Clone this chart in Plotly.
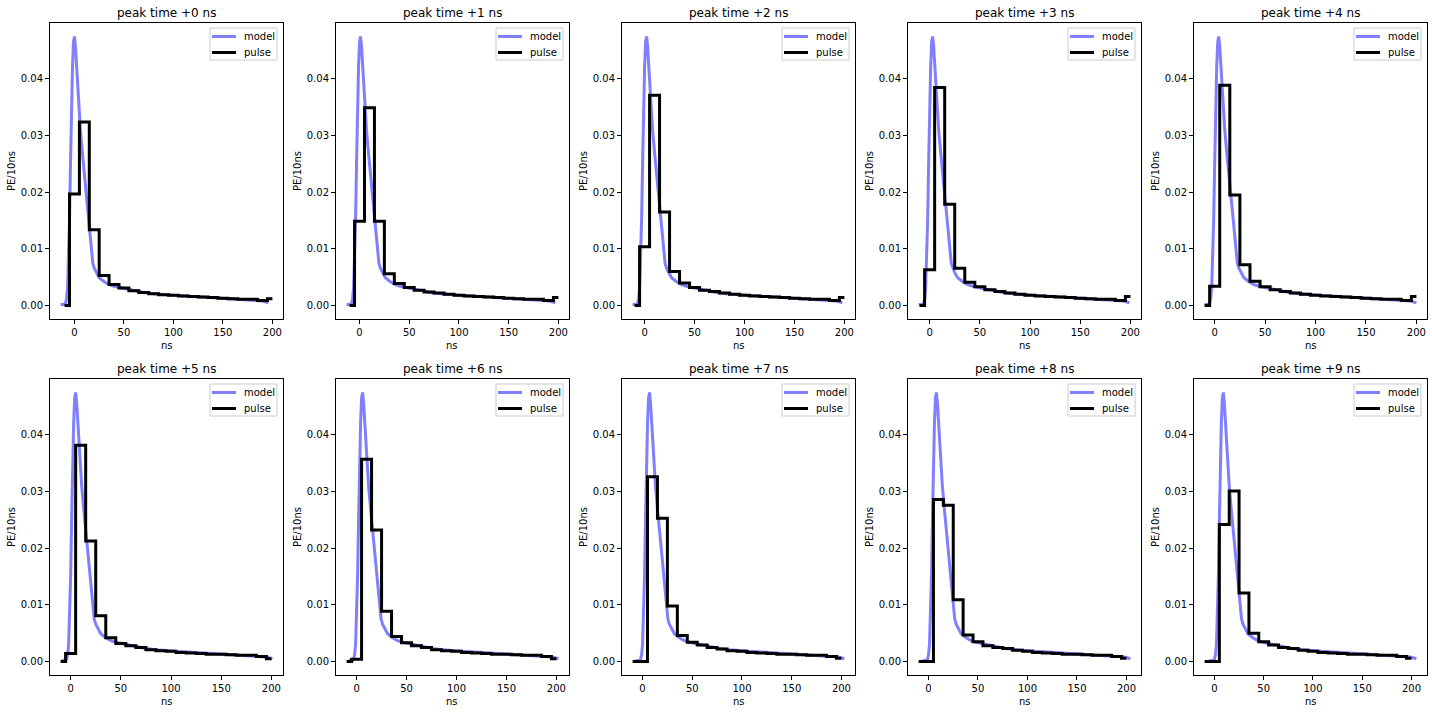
import plotly.graph_objects as go

W, H = 1432, 712

# ---------------- data ----------------
shifts = [0, 1, 2, 3, 4, 5, 6, 7, 8, 9]
titles = ["peak time +%d ns" % s for s in shifts]
series_names = ["model", "pulse"]

# model curve (time relative to peak, PE/10ns)
model_t = [-14, -10, -9, -8, -7, -6, -5, -4, -3, -2, -1, 0, 1, 2, 3, 4, 5, 6, 8,
           10, 12, 14, 16, 18.5, 20, 22, 25, 30, 35, 40, 50, 60, 70, 80, 90,
           100, 120, 140, 160, 180, 190, 196]
model_y = [0.0002, 0.0002, 0.0004, 0.0012, 0.003, 0.008, 0.015, 0.025, 0.035, 0.042,
           0.0465, 0.0475, 0.0458, 0.0425, 0.039, 0.0365, 0.034, 0.031, 0.027,
           0.023, 0.0195, 0.0158, 0.0122, 0.0075, 0.0066, 0.0058, 0.0049, 0.0042,
           0.0037, 0.0034, 0.003, 0.0026, 0.0023, 0.0021, 0.0019,
           0.0018, 0.0016, 0.0014, 0.0012, 0.0010, 0.0008, 0.0005]

pulse_t = [-10, 0, 10, 20, 30, 40, 50, 60, 70, 80, 90, 100, 110, 120, 130, 140,
           150, 160, 170, 180, 190, 200]

pulse_0 = [0, 0.0197, 0.0324, 0.0134, 0.0053, 0.0037, 0.0031, 0.0026, 0.0023, 0.0021, 0.0019,
           0.0018, 0.0017, 0.0016, 0.0015, 0.0014, 0.0013, 0.0012, 0.0011, 0.0011, 0.0009, 0.0012]
pulse_1 = [0, 0.0149, 0.0349, 0.0149, 0.0056, 0.0039, 0.0032, 0.0027, 0.0024, 0.0022, 0.0020,
           0.0018, 0.0017, 0.0016, 0.0015, 0.0014, 0.0013, 0.0012, 0.0011, 0.0011, 0.0009, 0.0014]
pulse_2 = [0, 0.0104, 0.0371, 0.0165, 0.0060, 0.0040, 0.0032, 0.0027, 0.0025, 0.0022, 0.0020,
           0.0018, 0.0017, 0.0016, 0.0015, 0.0014, 0.0013, 0.0012, 0.0011, 0.0011, 0.0009, 0.0014]
pulse_3 = [0, 0.0063, 0.0385, 0.0179, 0.0066, 0.0041, 0.0033, 0.0028, 0.0025, 0.0022, 0.0020,
           0.0018, 0.0017, 0.0016, 0.0015, 0.0014, 0.0013, 0.0012, 0.0011, 0.0011, 0.0009, 0.0016]
pulse_4 = [0, 0.0034, 0.0389, 0.0195, 0.0072, 0.0043, 0.0033, 0.0028, 0.0025, 0.0022, 0.0020,
           0.0018, 0.0017, 0.0016, 0.0015, 0.0014, 0.0013, 0.0012, 0.0011, 0.0011, 0.0009, 0.0016]
pulse_5 = [0, 0.0014, 0.0382, 0.0213, 0.0081, 0.0042, 0.0032, 0.0028, 0.0025, 0.0021, 0.0019,
           0.0018, 0.0016, 0.0015, 0.0014, 0.0013, 0.0013, 0.0012, 0.0011, 0.0011, 0.0009, 0.0005]
pulse_6 = [0, 0.0004, 0.0357, 0.0232, 0.0089, 0.0044, 0.0033, 0.0028, 0.0025, 0.0021, 0.0019,
           0.0018, 0.0016, 0.0015, 0.0014, 0.0013, 0.0013, 0.0012, 0.0011, 0.0011, 0.0009, 0.0005]
pulse_7 = [0, 0.0, 0.0326, 0.0253, 0.0098, 0.0046, 0.0034, 0.0029, 0.0025, 0.0022, 0.0019,
           0.0018, 0.0016, 0.0015, 0.0014, 0.0013, 0.0013, 0.0012, 0.0011, 0.0011, 0.0009, 0.0006]
pulse_8 = [0, 0.0, 0.0286, 0.0276, 0.0109, 0.0047, 0.0035, 0.0028, 0.0025, 0.0023, 0.0020,
           0.0018, 0.0016, 0.0015, 0.0014, 0.0013, 0.0013, 0.0012, 0.0011, 0.0011, 0.0009, 0.0006]
pulse_9 = [0, 0.0, 0.0242, 0.0301, 0.0121, 0.0050, 0.0035, 0.0029, 0.0025, 0.0023, 0.0020,
           0.0018, 0.0016, 0.0015, 0.0014, 0.0013, 0.0013, 0.0012, 0.0011, 0.0011, 0.0009, 0.0006]
pulses = [pulse_0, pulse_1, pulse_2, pulse_3, pulse_4,
          pulse_5, pulse_6, pulse_7, pulse_8, pulse_9]

y_ticks = [0.0, 0.01, 0.02, 0.03, 0.04]
x_ticks = [0, 50, 100, 150, 200]

# ---------------- layout geometry (pixels) ----------------
col_left = [50, 336, 622, 908, 1194]
ax_w = 233
row_top = [23, 379]
ax_h = 296

FONT = "DejaVu Sans, Arial, sans-serif"
MODEL_COLOR = "rgba(0,0,255,0.5)"
series_colors = [MODEL_COLOR, "black"]


def px(xp):
    return xp / W


def py_(yp):
    return 1 - yp / H


fig = go.Figure()
layout = dict(
    width=W, height=H,
    margin=dict(l=0, r=0, t=0, b=0),
    paper_bgcolor="white", plot_bgcolor="white",
    font=dict(family=FONT, size=10, color="black"),
    showlegend=False,
)
annotations = []
shapes = []

for k in range(10):
    r, c = divmod(k, 5)
    left = col_left[c]
    top = row_top[r]
    right = left + ax_w
    xd = [px(left), px(right)]
    yd = [py_(top + ax_h), py_(top)]
    n = k + 1
    xa = "x" if n == 1 else "x%d" % n
    ya = "y" if n == 1 else "y%d" % n

    mx = [t + shifts[k] for t in model_t]
    pv = pulses[k]

    fig.add_trace(go.Scatter(x=mx, y=model_y, mode="lines", name="model",
                             line=dict(color=MODEL_COLOR, width=3),
                             xaxis=xa, yaxis=ya))
    fig.add_trace(go.Scatter(x=pulse_t, y=pv, mode="lines", name="pulse",
                             line=dict(color="black", width=3, shape="hvh"),
                             xaxis=xa, yaxis=ya))

    # matplotlib-like autoscale with 5% margins
    allx = mx + pulse_t
    xmin, xmax = min(allx), max(allx)
    dx = 0.05 * (xmax - xmin)
    ally = model_y + pv
    ymin, ymax = min(ally), max(ally)
    dy = 0.05 * (ymax - ymin)

    axis_common = dict(showline=True, mirror=True, linecolor="black", linewidth=1,
                       ticks="outside", ticklen=4, tickwidth=1, tickcolor="black",
                       showgrid=False, zeroline=False,
                       tickfont=dict(family=FONT, size=10, color="black"))
    layout["xaxis" if n == 1 else "xaxis%d" % n] = dict(
        domain=xd, anchor=ya, range=[xmin - dx, xmax + dx],
        tickvals=x_ticks, ticktext=[str(v) for v in x_ticks], **axis_common)
    layout["yaxis" if n == 1 else "yaxis%d" % n] = dict(
        domain=yd, anchor=xa, range=[ymin - dy, ymax + dy],
        tickvals=y_ticks, ticktext=["%.2f" % v for v in y_ticks], **axis_common)

    # legend box (matplotlib style, upper right)
    bx0, bx1 = right - 73, right - 6
    by0, by1 = top + 5, top + 37
    shapes.append(dict(type="rect", xref="paper", yref="paper",
                       x0=px(bx0), x1=px(bx1), y0=py_(by1), y1=py_(by0),
                       line=dict(color="#cccccc", width=1),
                       fillcolor="rgba(255,255,255,0.8)", layer="above"))
    for j, (nm, col) in enumerate(zip(series_names, series_colors)):
        ly = top + 13.5 + 16 * j
        shapes.append(dict(type="line", xref="paper", yref="paper",
                           x0=px(right - 71), x1=px(right - 47), y0=py_(ly), y1=py_(ly),
                           line=dict(color=col, width=3), layer="above"))
        annotations.append(dict(text=nm, x=px(right - 41), y=py_(ly), xref="paper", yref="paper",
                                xanchor="left", yanchor="middle", showarrow=False,
                                font=dict(family=FONT, size=10, color="black")))

    cx = px(left + ax_w / 2)
    annotations.append(dict(text=titles[k], x=cx, y=py_(top - 10.5), xref="paper", yref="paper",
                            xanchor="center", yanchor="middle", showarrow=False,
                            font=dict(family=FONT, size=12, color="black")))
    annotations.append(dict(text="ns", x=cx, y=py_(top + ax_h + 26), xref="paper", yref="paper",
                            xanchor="center", yanchor="middle", showarrow=False,
                            font=dict(family=FONT, size=10, color="black")))
    annotations.append(dict(text="PE/10ns", x=px(left - 39), y=py_(top + ax_h / 2),
                            xref="paper", yref="paper", xanchor="center", yanchor="middle",
                            textangle=-90, showarrow=False,
                            font=dict(family=FONT, size=10, color="black")))

layout["annotations"] = annotations
layout["shapes"] = shapes
fig.update_layout(**layout)
fig.write_html("out.html")
